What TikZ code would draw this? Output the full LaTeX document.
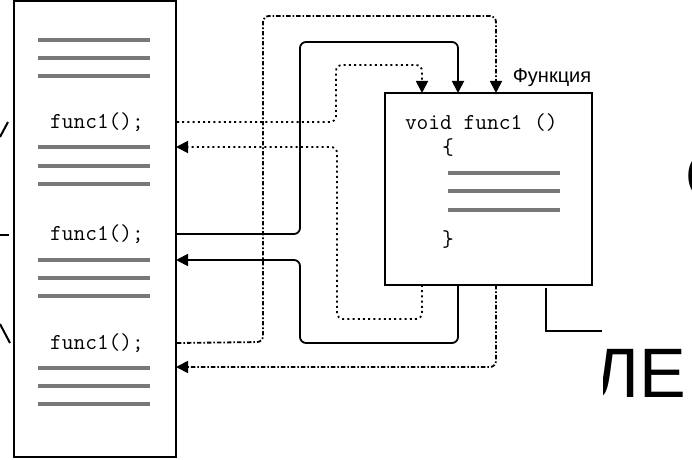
\documentclass[tikz,border=0pt]{standalone}
\usepackage{fontspec}
\setmainfont{Liberation Sans}
\setsansfont{Liberation Sans}
\usetikzlibrary{arrows.meta}
\definecolor{codegray}{RGB}{120,120,120}

\begin{document}
\begin{tikzpicture}[x=0.5pt,y=-0.5pt,line width=1pt,
  box/.style={draw,line width=1pt,inner sep=0pt},
  code/.style={font=\ttfamily\fontsize{11.4}{13}\selectfont,inner sep=0pt},
  gline/.style={draw=codegray,line width=2.2pt},
  flow/.style={line width=0.9pt,rounded corners=3pt,-{Triangle[length=6pt,width=6pt]}},
  calldot/.style={flow,dash pattern=on 1pt off 1.6pt},
  callsolid/.style={flow},
  calldash/.style={flow,dash pattern=on 2.2pt off 1pt on 0.8pt off 1pt}]
  \useasboundingbox (0,0) rectangle (692,460);

  % main program and the function
  \node[box,minimum width=81pt,minimum height=228pt] (prog) at (95,229) {};
  \node[box,minimum width=103.5pt,minimum height=96pt] (func) at (488.5,189) {};
  \node[font=\sffamily\fontsize{10}{12}\selectfont,inner sep=0pt] (lbl) at (552,78) {Функция};

  \node[code] (call1) at (97,122) {func1();};
  \node[code] (call2) at (97,234) {func1();};
  \node[code] (call3) at (97,343) {func1();};
  \foreach \y in {40,58,76,147,166,184,260,278,296,368,386,404}
    \draw[gline] (38,\y) -- (150,\y);

  \node[code,anchor=west] (head) at (404,123) {void func1 ()};
  \node[code] (open) at (448,148) {\{};
  \node[code] (close) at (448,240) {\}};
  \foreach \y in {173,191,210}
    \draw[gline] (448,\y) -- (560,\y);

  % where the calls go in and come back
  \coordinate (in1) at (422,93);
  \coordinate (in2) at (458,93);
  \coordinate (in3) at (496,93);
  \coordinate (out1) at (422,285);
  \coordinate (out2) at (458,285);
  \coordinate (out3) at (496,285);
  \coordinate (ret1) at (176,147);
  \coordinate (ret2) at (176,260);
  \coordinate (ret3) at (176,367);

  \draw[calldot] (call1 -| prog.east) -- (336,122) |- (422,65) -- (in1);
  \draw[calldot] (out1) |- (337,319) |- (ret1);
  \draw[callsolid] (call2 -| prog.east) -- (300,234) |- (458,42) -- (in2);
  \draw[callsolid] (out2) |- (300,343) |- (ret2);
  \draw[calldash] (call3 -| prog.east) -- (263,342) |- (496,16) -- (in3);
  \draw[calldash] (out3) |- (ret3);

  % bits of the slide around it
  \draw (0,137) -- (8,122);
  \draw (0,235) -- (9,235);
  \draw (0,324) -- (10,343);
  \draw (546,288) |- (602,331);
  \begin{scope}
    \clip (603,0) rectangle (692,460);
    \node[font=\sffamily\fontsize{35}{40}\selectfont,inner sep=0pt,anchor=base east] (word) at (687,398) {ЛЕ};
    \node[font=\sffamily\fontsize{35}{40}\selectfont,inner sep=0pt,anchor=base west] (big) at (684,201) {О};
  \end{scope}
\end{tikzpicture}
\end{document}
